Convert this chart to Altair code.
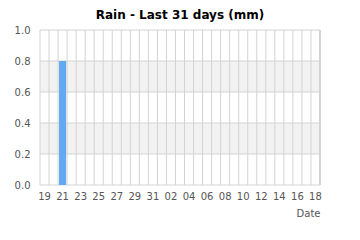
import altair as alt
import pandas as pd

days = ["19", "20", "21", "22", "23", "24", "25", "26", "27", "28", "29", "30", "31",
        "01", "02", "03", "04", "05", "06", "07", "08", "09", "10", "11", "12", "13",
        "14", "15", "16", "17", "18"]
rain = [0, 0, 0.8, 0, 0, 0, 0, 0, 0, 0, 0, 0, 0,
        0, 0, 0, 0, 0, 0, 0, 0, 0, 0, 0, 0, 0,
        0, 0, 0, 0, 0]
labeled = ["19", "21", "23", "25", "27", "29", "31", "02", "04", "06", "08",
           "10", "12", "14", "16", "18"]
y_ticks = [0.0, 0.2, 0.4, 0.6, 0.8, 1.0]
band_lo = [0.2, 0.6]
band_hi = [0.4, 0.8]

df = pd.DataFrame({"day": days, "rain": rain})
bands = pd.DataFrame({"lo": band_lo, "hi": band_hi})
yt = pd.DataFrame({"v": y_ticks})

FONT = "DejaVu Sans"
GRID = "#d3d3d3"
W, H = 280, 155
lab_list = "[" + ",".join("'" + d + "'" for d in labeled) + "]"

xscale = alt.Scale(domain=days, paddingInner=0, paddingOuter=0)
yscale = alt.Scale(domain=[0, 1], nice=False)

yaxis = alt.Axis(title=None, values=y_ticks, format=".1f", grid=False, ticks=False,
                 domain=False, labelOverlap=False, labelPadding=10)
xaxis = alt.Axis(title="Date", grid=False, ticks=False, domain=False, labelAngle=0,
                 labelPadding=6, labelOverlap=False,
                 labelExpr=f"indexof({lab_list}, datum.value) >= 0 ? datum.value : ''",
                 titleAnchor="end", titlePadding=7)

shade = alt.Chart(bands).mark_rect(color="#f2f2f2").encode(
    y=alt.Y("lo:Q", scale=yscale, axis=yaxis),
    y2="hi:Q",
    x=alt.value(0),
    x2=alt.value(W),
)

hgrid = alt.Chart(yt).mark_rule(color=GRID, strokeWidth=1).encode(
    y=alt.Y("v:Q", scale=yscale, axis=yaxis),
    x=alt.value(0), x2=alt.value(W),
)

vgrid = alt.Chart(df).mark_rule(color=GRID, strokeWidth=1, xOffset=-W / len(days) / 2).encode(
    x=alt.X("day:N", scale=xscale, sort=days, axis=xaxis),
    y=alt.value(0), y2=alt.value(H),
)
vgrid_end = alt.Chart(df).mark_rule(color=GRID, strokeWidth=1).encode(
    x=alt.value(W), y=alt.value(0), y2=alt.value(H)
)

bars = alt.Chart(df).mark_bar(color="#62a9f3", width={"band": 0.78}).encode(
    x=alt.X("day:N", scale=xscale, sort=days, axis=xaxis),
    y=alt.Y("rain:Q", scale=yscale, axis=yaxis),
)

chart = alt.layer(shade, hgrid, vgrid, vgrid_end, bars).properties(
    width=W, height=H,
    title=alt.TitleParams("Rain - Last 31 days (mm)", font=FONT, fontSize=12,
                          fontWeight="bold", color="#000000", offset=3),
    autosize=alt.AutoSizeParams(type="none"),
    padding={"left": 40, "top": 30, "right": 40, "bottom": 55},
).configure_view(stroke=None).configure_axis(
    labelFont=FONT, labelFontSize=10, labelColor="#555555",
    titleFont=FONT, titleFontSize=10, titleColor="#555555", titleFontWeight="normal",
)

chart.save("out.html", embed_options={"renderer": "svg", "actions": False})
